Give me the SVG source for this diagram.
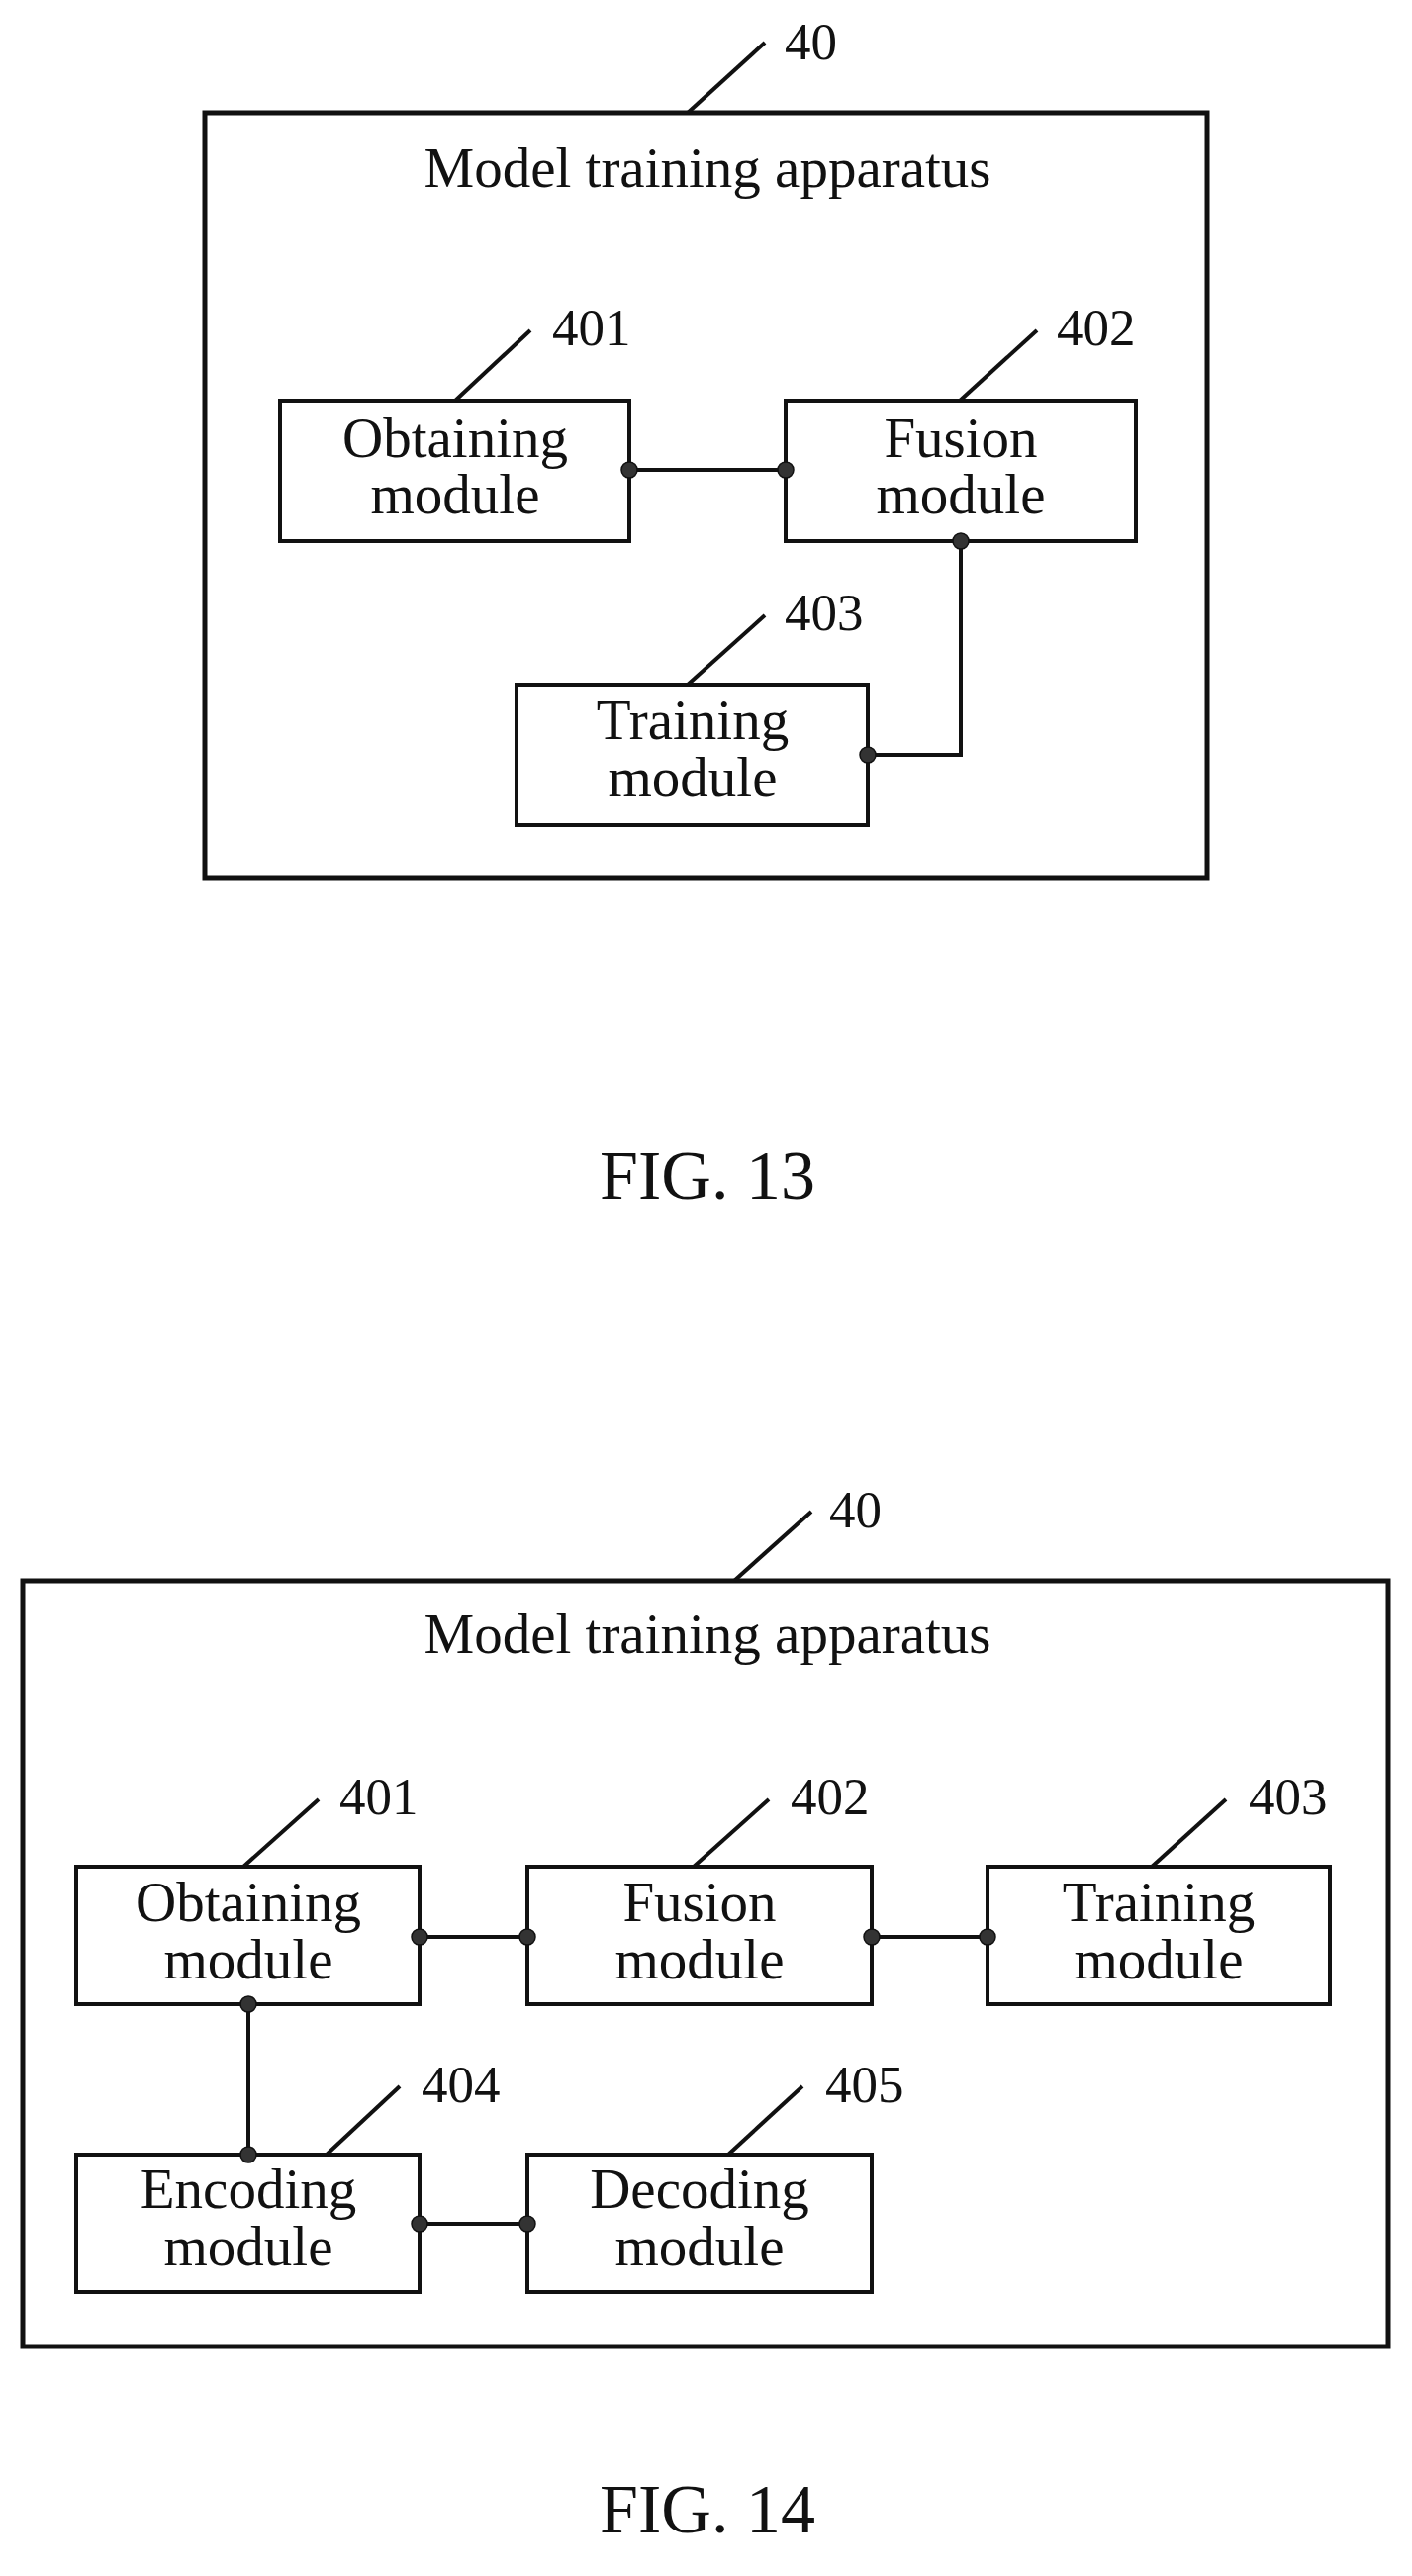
<svg xmlns="http://www.w3.org/2000/svg" width="1427" height="2604" viewBox="0 0 1427 2604">
<style>
.box{fill:none;stroke:#111;stroke-width:5}
.nb{fill:#fff;stroke:#111;stroke-width:4}
.ld{stroke:#111;stroke-width:4;fill:none}
.cn{stroke:#111;stroke-width:4;fill:none}
.dot{fill:#333;stroke:#111;stroke-width:1.5}
text{font-family:"Liberation Serif","Times New Roman",serif;fill:#111}
.t{font-size:57px;text-anchor:middle}
.n{font-size:53px}
.f{font-size:70px;text-anchor:middle}
</style>
<rect width="1427" height="2604" fill="#fff"/>
<g id="fig13">
<g id="apparatus13">
<rect class="box" x="207" y="114" width="1013" height="774"/>
<text class="t" x="715" y="189">Model training apparatus</text>
<line class="ld" x1="773" y1="43" x2="695" y2="114"/>
<text class="n" x="793" y="60">40</text>
</g>
<g id="obtaining13">
<rect class="nb" x="283" y="405" width="353" height="142"/>
<text class="t" x="460" y="462">Obtaining</text>
<text class="t" x="460" y="519">module</text>
<line class="ld" x1="536" y1="334" x2="460" y2="405"/>
<text class="n" x="558" y="349">401</text>
</g>
<g id="fusion13">
<rect class="nb" x="794" y="405" width="354" height="142"/>
<text class="t" x="971" y="462">Fusion</text>
<text class="t" x="971" y="519">module</text>
<line class="ld" x1="1048" y1="334" x2="970" y2="405"/>
<text class="n" x="1068" y="349">402</text>
</g>
<g id="training13">
<rect class="nb" x="522" y="692" width="355" height="142"/>
<text class="t" x="700" y="747">Training</text>
<text class="t" x="700" y="805">module</text>
<line class="ld" x1="773" y1="622" x2="695" y2="692"/>
<text class="n" x="793" y="637">403</text>
</g>
<g id="connectors13">
<line class="cn" x1="636" y1="475" x2="794" y2="475"/>
<polyline class="cn" points="971,547 971,763 877,763"/>
<circle class="dot" cx="636" cy="475" r="8"/>
<circle class="dot" cx="794" cy="475" r="8"/>
<circle class="dot" cx="971" cy="547" r="8"/>
<circle class="dot" cx="877" cy="763" r="8"/>
</g>
<text class="f" x="715" y="1212">FIG. 13</text>
</g>
<g id="fig14">
<g id="apparatus14">
<rect class="box" x="23" y="1598" width="1380" height="774"/>
<text class="t" x="715" y="1671">Model training apparatus</text>
<line class="ld" x1="820" y1="1528" x2="742" y2="1598"/>
<text class="n" x="838" y="1544">40</text>
</g>
<g id="obtaining14">
<rect class="nb" x="77" y="1887" width="347" height="139"/>
<text class="t" x="251" y="1942">Obtaining</text>
<text class="t" x="251" y="2000">module</text>
<line class="ld" x1="322" y1="1819" x2="246" y2="1887"/>
<text class="n" x="343" y="1834">401</text>
</g>
<g id="fusion14">
<rect class="nb" x="533" y="1887" width="348" height="139"/>
<text class="t" x="707" y="1942">Fusion</text>
<text class="t" x="707" y="2000">module</text>
<line class="ld" x1="777" y1="1819" x2="701" y2="1887"/>
<text class="n" x="799" y="1834">402</text>
</g>
<g id="training14">
<rect class="nb" x="998" y="1887" width="346" height="139"/>
<text class="t" x="1171" y="1942">Training</text>
<text class="t" x="1171" y="2000">module</text>
<line class="ld" x1="1239" y1="1819" x2="1164" y2="1887"/>
<text class="n" x="1262" y="1834">403</text>
</g>
<g id="encoding14">
<rect class="nb" x="77" y="2178" width="347" height="139"/>
<text class="t" x="251" y="2232">Encoding</text>
<text class="t" x="251" y="2290">module</text>
<line class="ld" x1="404" y1="2109" x2="330" y2="2178"/>
<text class="n" x="426" y="2125">404</text>
</g>
<g id="decoding14">
<rect class="nb" x="533" y="2178" width="348" height="139"/>
<text class="t" x="707" y="2232">Decoding</text>
<text class="t" x="707" y="2290">module</text>
<line class="ld" x1="811" y1="2109" x2="736" y2="2178"/>
<text class="n" x="834" y="2125">405</text>
</g>
<g id="connectors14">
<line class="cn" x1="424" y1="1958" x2="533" y2="1958"/>
<line class="cn" x1="881" y1="1958" x2="998" y2="1958"/>
<line class="cn" x1="251" y1="2026" x2="251" y2="2178"/>
<line class="cn" x1="424" y1="2248" x2="533" y2="2248"/>
<circle class="dot" cx="424" cy="1958" r="8"/>
<circle class="dot" cx="533" cy="1958" r="8"/>
<circle class="dot" cx="881" cy="1958" r="8"/>
<circle class="dot" cx="998" cy="1958" r="8"/>
<circle class="dot" cx="251" cy="2026" r="8"/>
<circle class="dot" cx="251" cy="2178" r="8"/>
<circle class="dot" cx="424" cy="2248" r="8"/>
<circle class="dot" cx="533" cy="2248" r="8"/>
</g>
<text class="f" x="715" y="2560">FIG. 14</text>
</g>
</svg>
